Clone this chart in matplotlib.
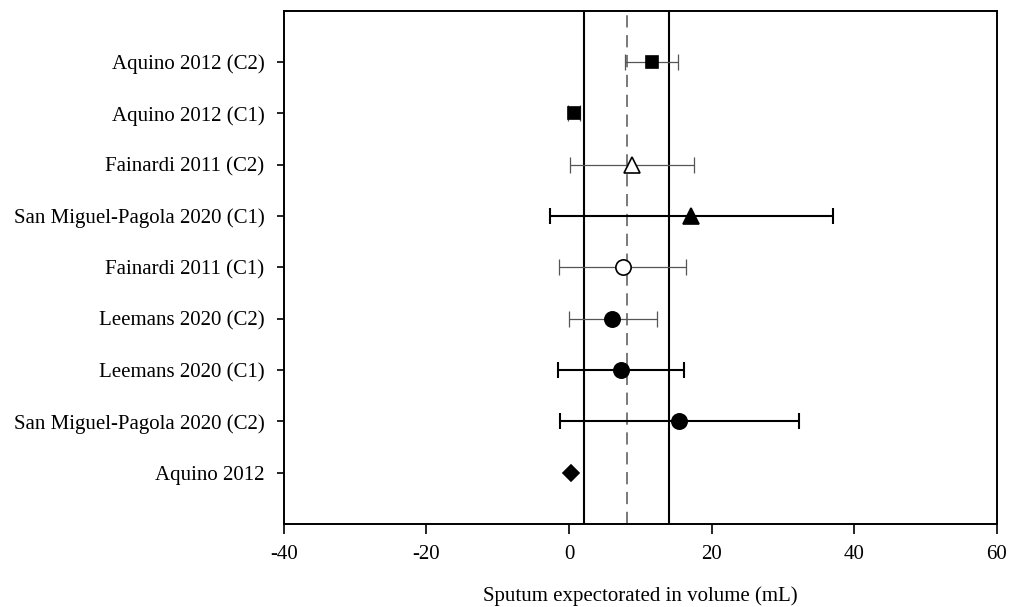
import matplotlib.pyplot as plt
import numpy as np

plt.rcParams['font.family'] = ['Liberation Serif', 'DejaVu Serif']
plt.rcParams['axes.unicode_minus'] = False

studies = ['Aquino 2012', 'San Miguel-Pagola 2020 (C2)', 'Leemans 2020 (C1)',
           'Leemans 2020 (C2)', 'Fainardi 2011 (C1)', 'San Miguel-Pagola 2020 (C1)',
           'Fainardi 2011 (C2)', 'Aquino 2012 (C1)', 'Aquino 2012 (C2)']
effect = [0.25, 15.5, 7.3, 6.1, 7.6, 17.1, 8.9, 0.7, 11.6]
ci_low = [0.25, -1.2, -1.5, 0.0, -1.35, -2.7, 0.1, -0.2, 7.9]
ci_high = [0.25, 32.3, 16.2, 12.3, 16.4, 37.0, 17.6, 1.5, 15.3]
markers = ['D', 'o', 'o', 'o', 'o', '^', '^', 's', 's']
filled = [True, True, True, True, False, True, False, True, True]
bold_bars = [True, True, True, False, False, True, False, False, False]

pooled_low = 2.1
pooled = 8.2
pooled_high = 14.0

fig = plt.figure(figsize=(10.2, 6.07), dpi=100)
ax = fig.add_axes([0.2784, 0.1367, 0.6986, 0.8460])

ax.axvline(pooled_low, color='black', lw=1.5, zorder=1)
ax.axvline(pooled_high, color='black', lw=1.5, zorder=1)
ax.axvline(pooled, color='#555555', lw=1.1, ls=(0, (8, 5)), zorder=1)

ypos = np.arange(1, len(studies) + 1)
for y, e, lo, hi, m, f, b in zip(ypos, effect, ci_low, ci_high, markers, filled, bold_bars):
    col = 'black' if b else '#555555'
    lw = 1.5 if b else 0.9
    if hi > lo:
        ax.errorbar(e, y, xerr=[[e - lo], [hi - e]], fmt='none', ecolor=col,
                    elinewidth=lw, capsize=6, capthick=lw, zorder=2)
    ms = {'s': 8, 'o': 11, '^': 11, 'D': 8}[m]
    ax.plot(e, y, marker=m, ms=ms, mfc='black' if f else 'white',
            mec='black', mew=1.2, ls='none', zorder=3)

ax.set_xlim(-40, 60)
ax.set_ylim(0, 10)
ax.set_xticks([-40, -20, 0, 20, 40, 60])
ax.set_yticks(ypos)
ax.set_yticklabels(studies)
ax.tick_params(axis='both', labelsize=15, direction='out', length=7, width=1.2, pad=8)
ax.tick_params(axis='y', length=5, pad=9)
for s in ax.spines.values():
    s.set_linewidth(1.4)
ax.set_xlabel('Sputum expectorated in volume (mL)', fontsize=15, labelpad=16)

fig.savefig('out.png', dpi=100)
